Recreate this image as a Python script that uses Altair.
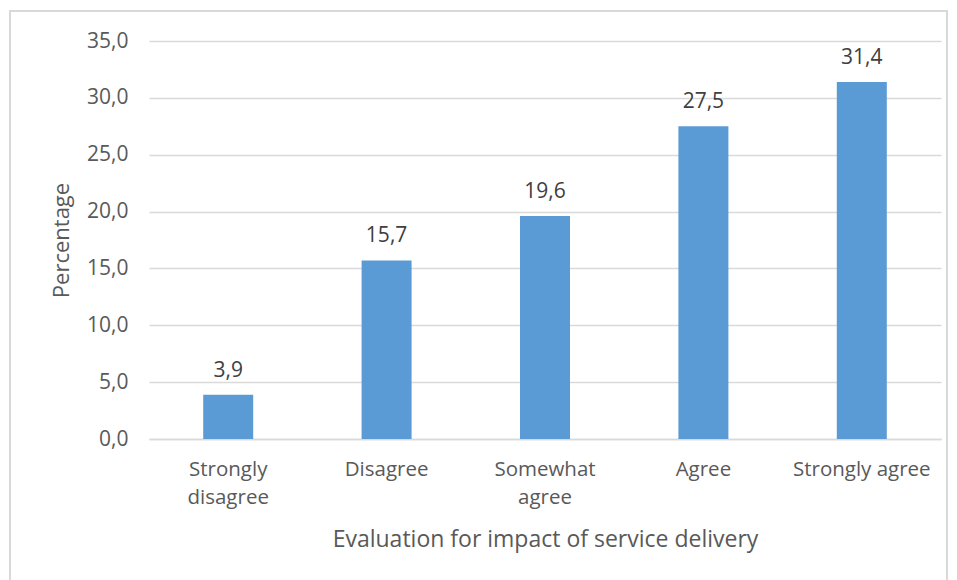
import altair as alt
import pandas as pd

categories = ["Strongly disagree", "Disagree", "Somewhat agree", "Agree", "Strongly agree"]
values = [3.9, 15.7, 19.6, 27.5, 31.4]
y_ticks = [0, 5, 10, 15, 20, 25, 30, 35]

df = pd.DataFrame({"cat": categories, "val": values})
df["lab"] = [f"{v:.1f}".replace(".", ",") for v in values]

FONT = "Open Sans"
TXT = "#595959"

base = alt.Chart(df)

bars = base.mark_bar(color="#5B9BD5", size=50).encode(
    x=alt.X("cat:N", sort=categories, scale=alt.Scale(paddingInner=0.0, paddingOuter=0.0),
            axis=alt.Axis(title="Evaluation for impact of service delivery",
                          labelExpr="datum.label == 'Strongly disagree' ? ['Strongly','disagree'] : datum.label == 'Somewhat agree' ? ['Somewhat','agree'] : datum.label",
                          labelAngle=0, labelFont=FONT, labelFontSize=20.5, labelColor=TXT,
                          labelPadding=20, labelLineHeight=28,
                          titleFont=FONT, titleFontSize=23, titleColor=TXT, titleFontWeight="normal",
                          titlePadding=21,
                          ticks=False, domain=True, domainColor="#d9d9d9", domainWidth=1.5,
                          grid=False)),
    y=alt.Y("val:Q", scale=alt.Scale(domain=[0, 35], nice=False),
            axis=alt.Axis(title="Percentage", values=y_ticks,
                          labelExpr="replace(format(datum.value, '.1f'), '.', ',')",
                          labelFont=FONT, labelFontSize=21, labelColor=TXT, labelPadding=21,
                          titleFont=FONT, titleFontSize=22, titleColor=TXT, titleFontWeight="normal",
                          titlePadding=13,
                          ticks=False, domain=False, grid=True, gridColor="#d9d9d9", gridWidth=1.3)),
)

labels = base.mark_text(font=FONT, fontSize=21, color="#404040", baseline="bottom", dy=-14).encode(
    x=alt.X("cat:N", sort=categories),
    y="val:Q",
    text="lab:N",
)

border = alt.Chart(df).mark_rect(fill=None, stroke="#d9d9d9", strokeWidth=1.5).encode(
    x=alt.value(-139), x2=alt.value(798), y=alt.value(-30), y2=alt.value(560)
)

chart = alt.layer(border, bars, labels).properties(
    width=792, height=398,
    autosize=alt.AutoSizeParams(type="none"),
    padding={"left": 149, "top": 41, "right": 16, "bottom": 141},
).configure(background="white").configure_view(stroke=None)

chart.save("out.html", embed_options={"renderer": "svg", "actions": False})
